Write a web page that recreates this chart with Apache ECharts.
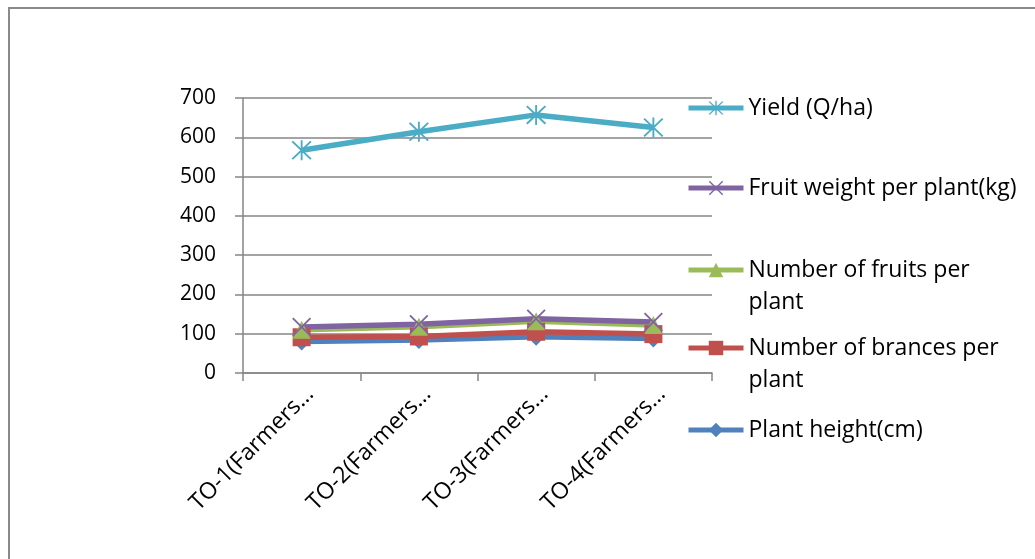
<!DOCTYPE html>
<html>
<head>
<meta charset="utf-8">
<script src="https://cdn.jsdelivr.net/npm/echarts@6/dist/echarts.min.js"></script>
<style>
  html, body { margin: 0; padding: 0; background: #fff; }
  #frame { position: absolute; left: 8px; top: 7px; width: 1027px; height: 552px;
           border-left: 2px solid #8a8a8a; border-top: 2px solid #8a8a8a; }
  #chart { position: absolute; left: 0; top: 0; width: 1035px; height: 559px; }
</style>
</head>
<body>
<div id="frame"></div>
<div id="chart"></div>
<script>
// Treatments (labels shown truncated on the axis)
const categories = ['TO-1(Farmers…', 'TO-2(Farmers…', 'TO-3(Farmers…', 'TO-4(Farmers…'];

// Series values per treatment
const plantHeight   = [80, 84, 92, 88];
const branches      = [91, 93, 105, 99];
const fruits        = [110, 118, 132, 122];
const fruitWeight   = [117, 124, 138, 130];
const yieldQha      = [567, 614, 657, 625];

// Value axis ticks
const yTicks = { min: 0, max: 700, interval: 100 };

const FONT = '"Open Sans"';

// Marker shapes: six-armed star and a plain cross
const STAR = 'path://M9.1 0H10.9V20H9.1Z M0.5 1.8L1.8 0.5L19.5 18.2L18.2 19.5Z M18.2 0.5L19.5 1.8L1.8 19.5L0.5 18.2Z';
const CROSS = 'path://M0.5 1.8L1.8 0.5L19.5 18.2L18.2 19.5Z M18.2 0.5L19.5 1.8L1.8 19.5L0.5 18.2Z';

function line(name, data, color, symbol, size) {
  return {
    name, type: 'line', data,
    symbol, symbolSize: size,
    lineStyle: { color, width: 5.5 },
    itemStyle: { color },
    emphasis: { disabled: true },
    animation: false, z: 2
  };
}

const series = [
  line('Plant height(cm)', plantHeight, '#4F81BD', 'diamond', 18),
  line('Number of brances per plant', branches, '#C0504D', 'rect', 18),
  line('Number of fruits per plant', fruits, '#9BBB59', 'triangle', 18),
  line('Fruit weight per plant(kg)', fruitWeight, '#8064A2', CROSS, 19),
  line('Yield (Q/ha)', yieldQha, '#4BACC6', STAR, 20)
];

// One legend block per series so each entry sits at its own row;
// two-line entries get a blank lead line so the key lines up with the first text line
const legendRows = [
  { name: 'Yield (Q/ha)', top: 92, label: 'Yield (Q/ha)' },
  { name: 'Fruit weight per plant(kg)', top: 172, label: 'Fruit weight per plant(kg)' },
  { name: 'Number of fruits per plant', top: 222, label: ' \nNumber of fruits per\nplant' },
  { name: 'Number of brances per plant', top: 300, label: ' \nNumber of brances per\nplant' },
  { name: 'Plant height(cm)', top: 414, label: 'Plant height(cm)' }
];

const legend = legendRows.map(r => ({
  data: [r.name],
  left: 686, top: r.top,
  orient: 'vertical',
  padding: 0,
  itemWidth: 55, itemHeight: 18, itemGap: 0,
  selectedMode: false,
  lineStyle: { width: 5 },
  formatter: () => r.label,
  textStyle: { fontFamily: FONT, fontSize: 23, color: '#000', lineHeight: 32 }
}));

const chart = echarts.init(document.getElementById('chart'), null, { renderer: 'canvas' });
chart.setOption({
  animation: false,
  backgroundColor: 'transparent',
  grid: { left: 243, right: 323, top: 98, bottom: 186, containLabel: false },
  legend,
  xAxis: {
    type: 'category', data: categories, boundaryGap: true,
    axisLine: { lineStyle: { color: '#868686', width: 1.5 } },
    axisTick: { show: true, length: 8, alignWithLabel: false, lineStyle: { color: '#868686', width: 1.5 } },
    axisLabel: {
      rotate: 45, margin: 26, interval: 0, fontFamily: FONT, fontSize: 23, color: '#000',
      padding: [0, -12, 0, 0]
    }
  },
  yAxis: {
    type: 'value', min: yTicks.min, max: yTicks.max, interval: yTicks.interval,
    axisLine: { show: true, lineStyle: { color: '#868686', width: 1.5 } },
    axisTick: { show: true, length: 8, lineStyle: { color: '#868686', width: 1.5 } },
    splitLine: { lineStyle: { color: '#868686', width: 1.5 } },
    axisLabel: { margin: 27, fontFamily: FONT, fontSize: 21, color: '#000' }
  },
  series
});
</script>
</body>
</html>
